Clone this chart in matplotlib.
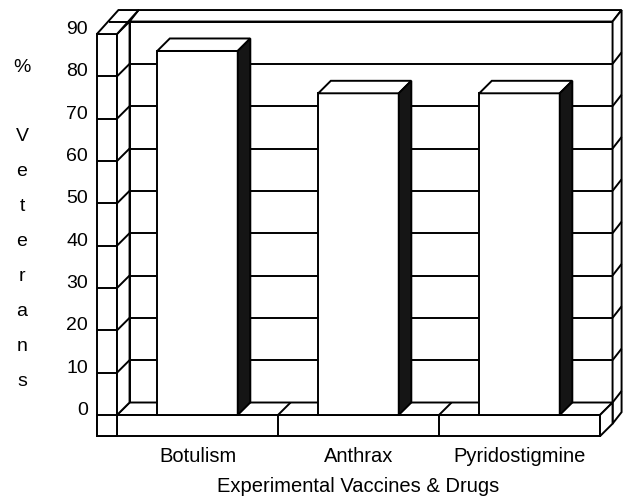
import matplotlib.pyplot as plt
from matplotlib.patches import Polygon

# Data
categories = ["Botulism", "Anthrax", "Pyridostigmine"]
values = [86, 76, 76]
yticks = [0, 10, 20, 30, 40, 50, 60, 70, 80, 90]
ylabel = "% Veterans"
xlabel = "Experimental Vaccines & Drugs"

plt.rcParams["font.family"] = ["Liberation Sans", "DejaVu Sans"]

fig = plt.figure(figsize=(6.3, 4.98), dpi=100)
ax = fig.add_axes([0, 0, 1, 1])
ax.set_xlim(-1.2267, 2.6863)
ax.set_ylim(-19.61, 98.04)
ax.axis("off")

lw = 1.4
# depth offsets (front -> back wall face, back wall face -> back)
dx1, dy1 = 0.078, 2.95
dx2, dy2 = 0.056, 2.72
ymax = 90
floor = -5
left, wall_l = -0.5, -0.625
right = len(categories) - 0.5


def face(pts, fc="white", z=1):
    ax.add_patch(Polygon(pts, closed=True, facecolor=fc, edgecolor="black",
                         linewidth=lw, zorder=z, joinstyle="miter"))


def line(xs, ys, z=2):
    ax.plot(xs, ys, color="black", linewidth=lw, zorder=z,
            solid_capstyle="butt")


# back wall front face with gridlines
face([(left + dx1, dy1), (right + dx1, dy1), (right + dx1, ymax + dy1),
      (left + dx1, ymax + dy1)], z=1)
for v in yticks[1:-1]:
    line([left + dx1, right + dx1], [v + dy1, v + dy1], z=1.5)

# back wall top face
face([(left + dx1, ymax + dy1), (right + dx1, ymax + dy1),
      (right + dx1 + dx2, ymax + dy1 + dy2),
      (left + dx1 + dx2, ymax + dy1 + dy2)], z=1)

# back wall right face
face([(right + dx1, floor + dy1), (right + dx1, ymax + dy1),
      (right + dx1 + dx2, ymax + dy1 + dy2),
      (right + dx1 + dx2, floor + dy1 + dy2)], z=1)
for v in yticks[:-1]:
    line([right + dx1, right + dx1 + dx2], [v + dy1, v + dy1 + dy2], z=1.5)

# floor top face
face([(left, 0), (right, 0), (right + dx1, dy1), (left + dx1, dy1)], z=2)
for i in range(1, len(categories)):
    line([i - 0.5, i - 0.5 + dx1], [0, dy1], z=2.5)

# floor front face
face([(wall_l, floor), (right, floor), (right, 0), (wall_l, 0)], z=2)
for i in range(len(categories)):
    line([i - 0.5, i - 0.5], [floor, 0], z=2.5)

# floor right face
face([(right, floor), (right, 0), (right + dx1, dy1),
      (right + dx1, floor + dy1)], z=2)

# left wall front face
face([(wall_l, floor), (left, floor), (left, ymax), (wall_l, ymax)], z=3)
for v in yticks[:-1]:
    line([wall_l, left], [v, v], z=3.5)

# left wall inner side face
face([(left, 0), (left, ymax), (left + dx1, ymax + dy1), (left + dx1, dy1)],
     z=3)
for v in yticks[1:-1]:
    line([left, left + dx1], [v, v + dy1], z=3.5)

# left wall top face
face([(wall_l, ymax), (left, ymax), (left + dx1 + dx2, ymax + dy1 + dy2),
      (wall_l + dx1 + dx2, ymax + dy1 + dy2)], z=3)
line([wall_l + dx1, left + dx1], [ymax + dy1, ymax + dy1], z=3.5)

# bars
bw = 0.5
xs = list(range(len(categories)))
ax.bar(xs, values, width=bw, color="white", edgecolor="black",
       linewidth=lw, zorder=4)
for x, v in zip(xs, values):
    x0, x1 = x - bw / 2, x + bw / 2
    face([(x0, v), (x1, v), (x1 + dx1, v + dy1), (x0 + dx1, v + dy1)], z=4)
    face([(x1, 0), (x1, v), (x1 + dx1, v + dy1), (x1 + dx1, dy1)],
         fc="#151515", z=4)

# tick labels
for v in yticks:
    ax.text(-0.68, v + 1.1, str(v), ha="right", va="center", fontsize=14)
for x, c in zip(xs, categories):
    ax.text(x, -9.9, c, ha="center", va="center", fontsize=14.5)
ax.text(1.0, -17.0, xlabel, ha="center", va="center", fontsize=14.5)

# vertical stacked y label
yy = 82.2
for ch in ylabel:
    if ch != " ":
        ax.text(-1.09, yy, ch, ha="center", va="center", fontsize=14)
    yy -= 8.25

fig.savefig("out.png", dpi=100)
